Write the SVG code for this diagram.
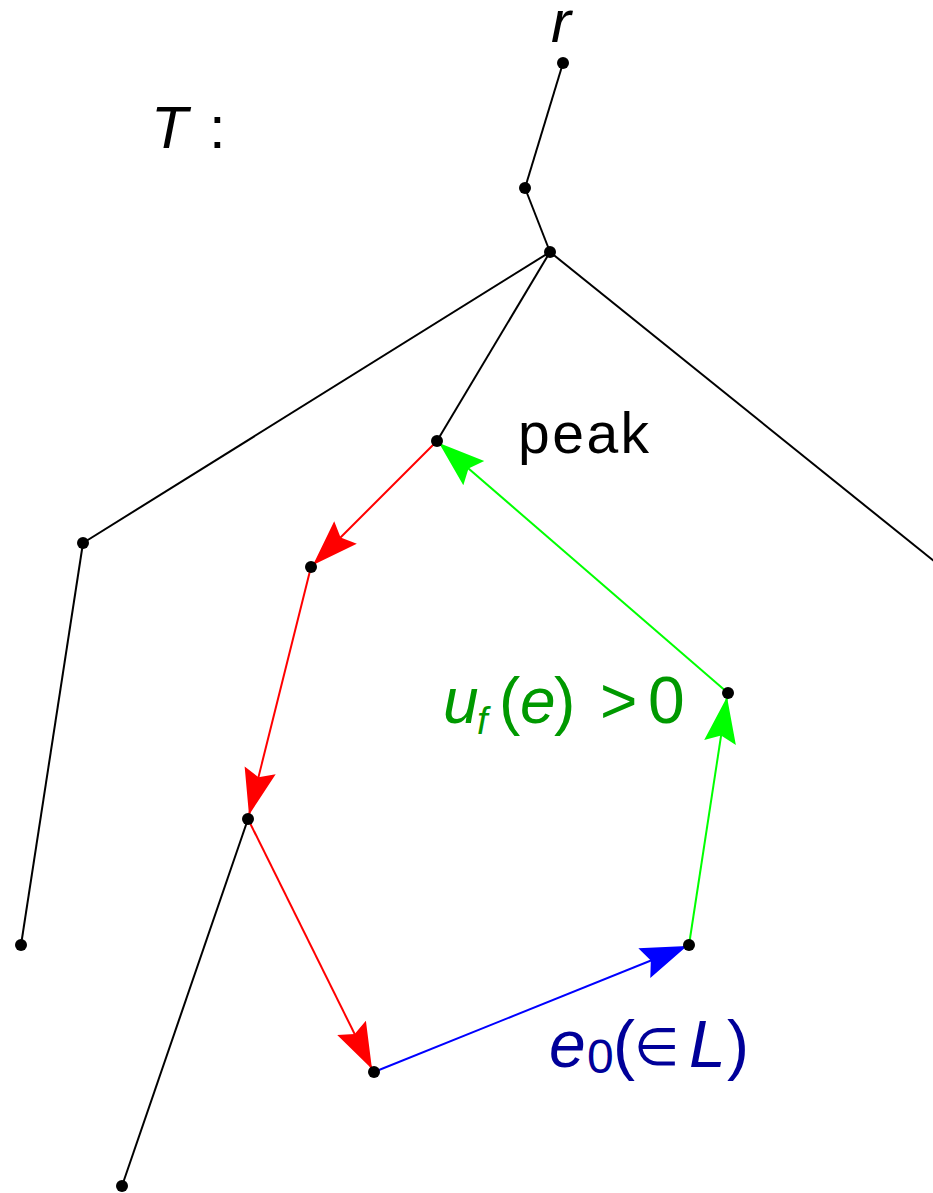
<svg xmlns="http://www.w3.org/2000/svg" width="933" height="1193" viewBox="0 0 933 1193">
<style>
.e{stroke:#000;stroke-width:2;fill:none}
.r{stroke:#f00;stroke-width:2;fill:none}
.g{stroke:#0f0;stroke-width:2;fill:none}
.b{stroke:#00f;stroke-width:2;fill:none}
.t{font-family:"Liberation Sans",Arial,sans-serif}
.s{font-family:"Liberation Serif","Times New Roman",serif}
.n{fill:#000}
</style>
<defs>
<marker id="ar" markerUnits="userSpaceOnUse" orient="auto" markerWidth="60" markerHeight="40" refX="0" refY="0" viewBox="-50 -20 60 40" overflow="visible"><path d="M0,0 L-46,-16 L-39,0 L-46,16 Z" fill="#f00"/></marker>
<marker id="ag" markerUnits="userSpaceOnUse" orient="auto" markerWidth="60" markerHeight="40" refX="0" refY="0" viewBox="-50 -20 60 40" overflow="visible"><path d="M0,0 L-46,-16 L-39,0 L-46,16 Z" fill="#0f0"/></marker>
<marker id="ab" markerUnits="userSpaceOnUse" orient="auto" markerWidth="60" markerHeight="40" refX="0" refY="0" viewBox="-50 -20 60 40" overflow="visible"><path d="M0,0 L-46,-16 L-39,0 L-46,16 Z" fill="#00f"/></marker>
</defs>
<g id="connectors">
<line class="e" x1="563" y1="63" x2="525" y2="188"/>
<line class="e" x1="525" y1="188" x2="550" y2="252"/>
<line class="e" x1="550" y1="252" x2="83" y2="543"/>
<line class="e" x1="83" y1="543" x2="21" y2="945"/>
<line class="e" x1="550" y1="252" x2="437" y2="441"/>
<line class="e" x1="550" y1="252" x2="945" y2="570"/>
<line class="e" x1="248" y1="819" x2="122" y2="1186"/>
<line class="r" x1="437" y1="441" x2="313" y2="565" marker-end="url(#ar)"/>
<line class="r" x1="311" y1="567" x2="249" y2="815" marker-end="url(#ar)"/>
<line class="r" x1="248" y1="819" x2="372" y2="1069" marker-end="url(#ar)"/>
<line class="b" x1="374" y1="1072" x2="687" y2="946" marker-end="url(#ab)"/>
<line class="g" x1="689" y1="945" x2="727" y2="697" marker-end="url(#ag)"/>
<line class="g" x1="728" y1="693" x2="439" y2="443" marker-end="url(#ag)"/>
</g>
<g id="n-r"><circle class="n" cx="563" cy="63" r="6"/><text class="t" x="551" y="42" font-size="60" font-style="italic">r</text></g>
<g id="n1"><circle class="n" cx="525" cy="188" r="6"/></g>
<g id="n2"><circle class="n" cx="550" cy="252" r="6"/></g>
<g id="n-peak"><circle class="n" cx="437" cy="441" r="6"/><text class="t" x="518" y="453" font-size="57" letter-spacing="2.5">peak</text></g>
<g id="n3"><circle class="n" cx="83" cy="543" r="6"/></g>
<g id="n4"><circle class="n" cx="21" cy="945" r="6"/></g>
<g id="n5"><circle class="n" cx="311" cy="567" r="6"/></g>
<g id="n6"><circle class="n" cx="248" cy="819" r="6"/></g>
<g id="n7"><circle class="n" cx="122" cy="1186" r="6"/></g>
<g id="n8"><circle class="n" cx="374" cy="1072" r="6"/></g>
<g id="n9"><circle class="n" cx="689" cy="945" r="6"/></g>
<g id="n10"><circle class="n" cx="728" cy="693" r="6"/></g>
<g id="label-T"><text class="t" y="148" font-size="60"><tspan x="151" font-style="italic">T</tspan><tspan x="209">:</tspan></text></g>
<g id="label-uf"><text class="t" y="723" font-size="64" fill="#009900"><tspan x="443" font-style="italic">u</tspan><tspan x="477" y="734" font-style="italic" font-size="38">f</tspan><tspan x="499" y="723">(</tspan><tspan x="520" font-style="italic">e</tspan><tspan x="554">)</tspan><tspan x="600">&gt;</tspan><tspan x="648" font-size="66">0</tspan></text></g>
<g id="label-e0"><text class="t" y="1067" font-size="66" fill="#000099"><tspan x="549" font-style="italic">e</tspan><tspan x="587" y="1073" font-size="48">0</tspan><tspan x="613" y="1067">(</tspan><tspan x="634" y="1065" class="s" font-size="52">∈</tspan><tspan x="689" y="1067" font-style="italic">L</tspan><tspan x="727">)</tspan></text></g>
</svg>
